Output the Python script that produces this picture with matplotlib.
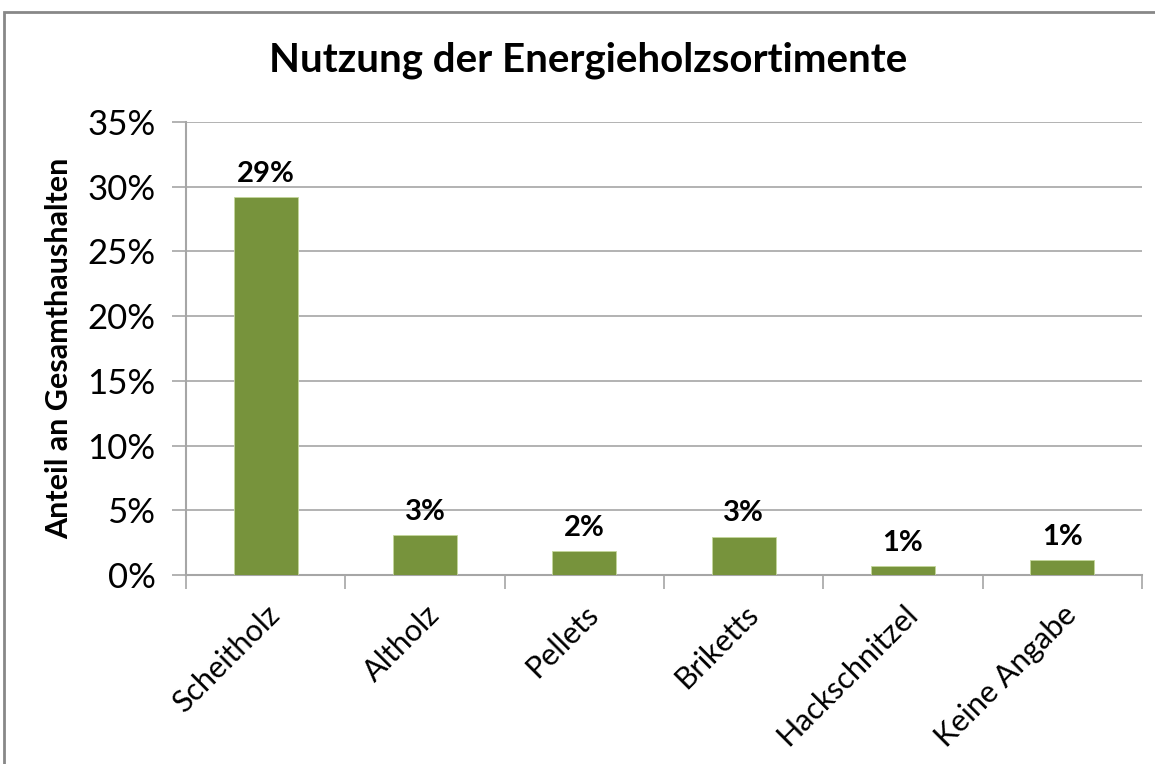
import matplotlib
matplotlib.use("Agg")
import matplotlib.pyplot as plt
from matplotlib.patches import Rectangle
from matplotlib.ticker import MultipleLocator, FuncFormatter

categories = ["Scheitholz", "Altholz", "Pellets", "Briketts", "Hackschnitzel", "Keine Angabe"]
values = [29.2, 3.1, 1.85, 2.95, 0.7, 1.15]
labels = ["29%", "3%", "2%", "3%", "1%", "1%"]

plt.rcParams['font.family'] = ['Lato', 'DejaVu Sans']

W, H = 1155, 764
fig = plt.figure(figsize=(W/100, H/100), dpi=100)
fig.patch.set_facecolor("white")

# outer chart frame
fig.add_artist(Rectangle((4/W, -0.1), 1.2, 1 - 12/H + 0.1, transform=fig.transFigure,
                         fill=False, edgecolor="#888888", linewidth=2.0))

ax = fig.add_axes([186/W, 1 - 575/H, (1142-186)/W, (575-122)/H])
x = list(range(len(categories)))
ax.bar(x, values, width=0.4, color="#77933C", edgecolor="#C4D79B", linewidth=0.6, zorder=3)
for xi, v, lab in zip(x, values, labels):
    ax.text(xi, v + 0.8, lab, ha="center", va="bottom", fontsize=21, fontweight="bold")

ax.set_xlim(-0.5, len(categories) - 0.5)
ax.set_ylim(0, 35)
ax.yaxis.set_major_locator(MultipleLocator(5))
ax.yaxis.set_major_formatter(FuncFormatter(lambda v, p: f"{int(v)}%"))
ax.grid(axis="y", color="#A6A6A6", linewidth=1.2, zorder=0)
ax.set_axisbelow(True)
for s in ["top", "right"]:
    ax.spines[s].set_visible(False)
for s in ["left", "bottom"]:
    ax.spines[s].set_color("#A6A6A6")
    ax.spines[s].set_linewidth(1.5)

ax.set_xticks([i + 0.5 for i in range(-1, len(categories))], minor=False)
ax.set_xticklabels([])
ax.tick_params(axis="x", length=10, color="#A6A6A6", width=1.2)
ax.set_xticks(x, minor=True)
ax.set_xticklabels(categories, minor=True, rotation=45, ha="right", rotation_mode="anchor", fontsize=22)
ax.tick_params(axis="x", which="minor", length=0, pad=18)
ax.tick_params(axis="y", length=10, color="#A6A6A6", width=1.2, labelsize=25, pad=12)

ax.set_ylabel("Anteil an Gesamthaushalten", fontsize=22, fontweight="bold", labelpad=10)
fig.text(588/W, 1 - 60/H, "Nutzung der Energieholzsortimente", ha="center", va="center",
         fontsize=29, fontweight="bold")

fig.savefig("out.png", dpi=100, facecolor="white")
